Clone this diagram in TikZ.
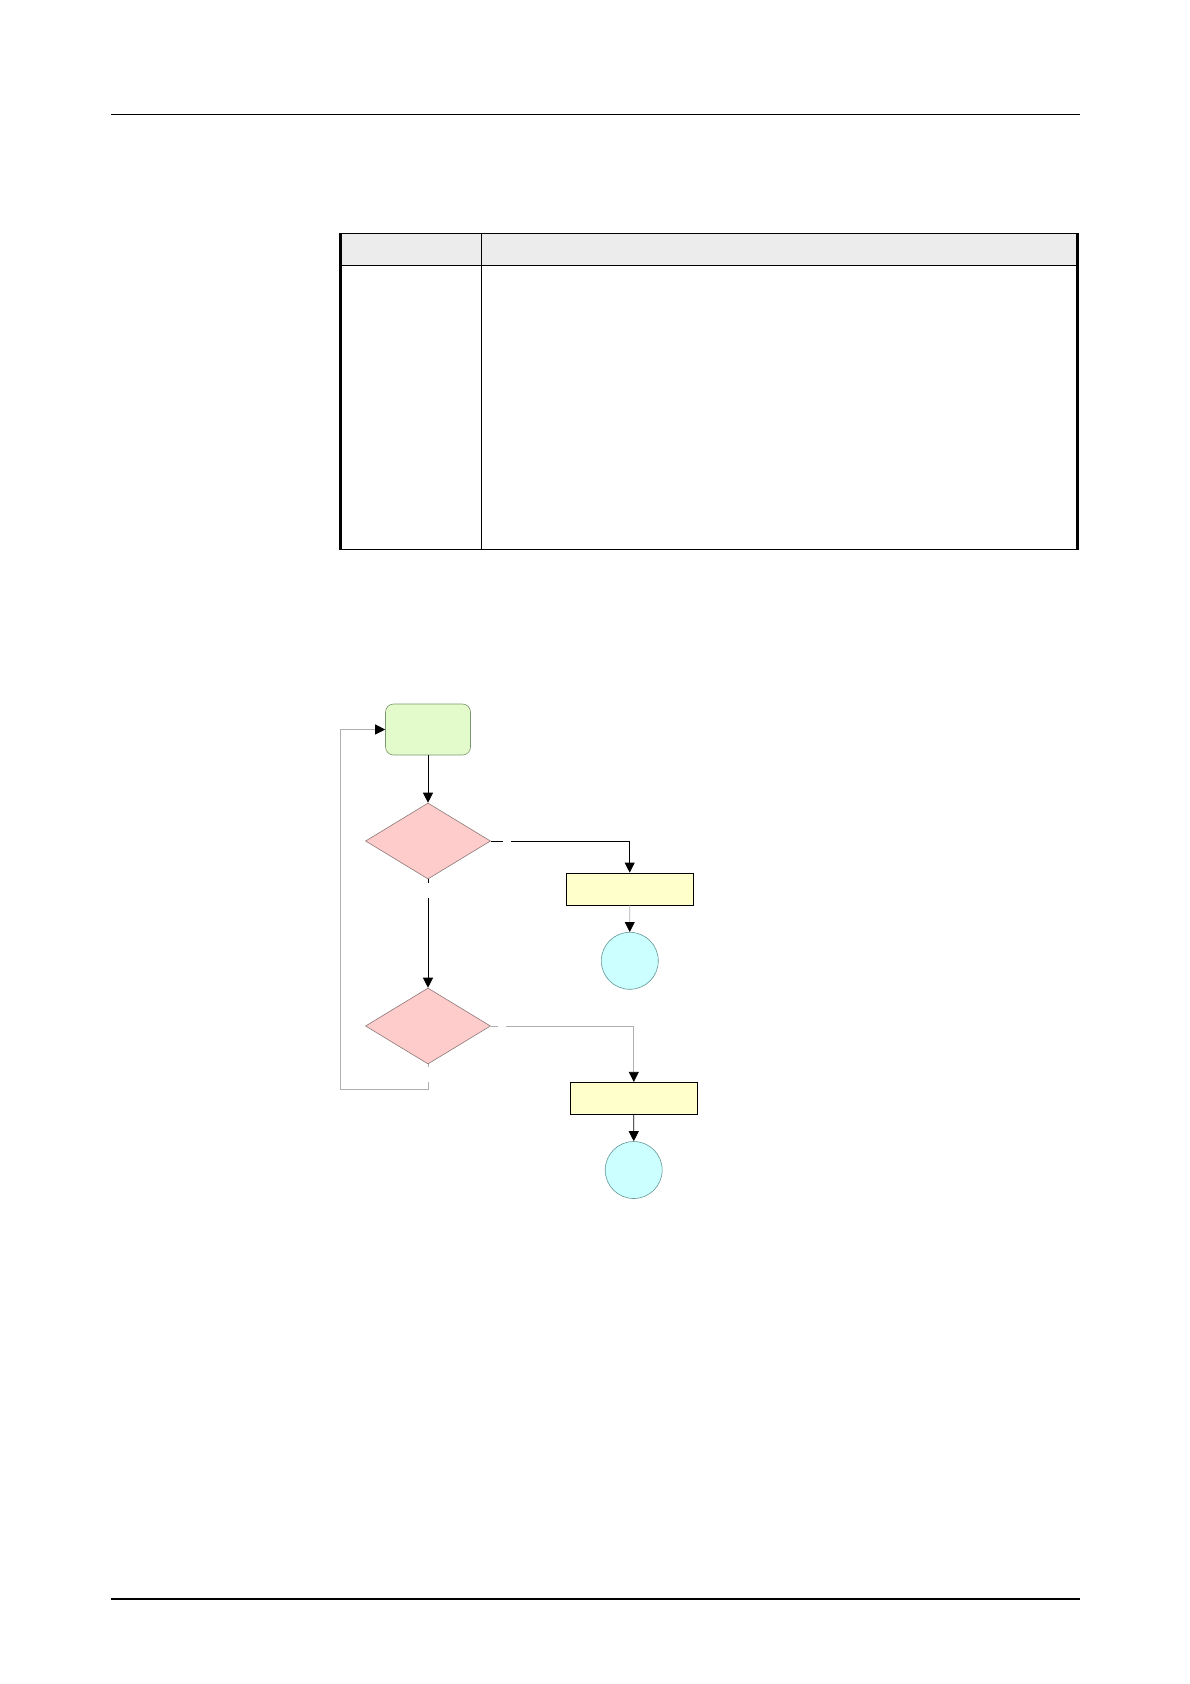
\documentclass[tikz,border=0pt]{standalone}
\usepackage{tikz}
\usetikzlibrary{arrows.meta,shapes.geometric}

\definecolor{startgreen}{RGB}{227,251,203}
\definecolor{startedge}{RGB}{120,150,110}
\definecolor{testred}{RGB}{255,204,204}
\definecolor{testedge}{RGB}{140,120,120}
\definecolor{actyellow}{RGB}{255,255,204}
\definecolor{endcyan}{RGB}{204,255,255}
\definecolor{endedge}{RGB}{100,150,150}
\definecolor{linegray}{RGB}{175,175,175}
\definecolor{headgray}{RGB}{236,236,236}

\begin{document}
\begin{tikzpicture}[
  x=1pt,y=-1pt,
  flow/.style={draw=black,line width=.8pt,-{Triangle[length=10pt,width=10pt,color=black]}},
  back/.style={draw=linegray,line width=.8pt,-{Triangle[length=10pt,width=10pt,color=black]}},
  startbox/.style={draw=startedge,fill=startgreen,rounded corners=8pt,
    minimum width=85pt,minimum height=51pt,inner sep=0pt,line width=.6pt},
  test/.style={diamond,draw=testedge,fill=testred,
    minimum width=125pt,minimum height=76pt,inner sep=0pt,line width=.6pt},
  action/.style={draw=black,fill=actyellow,
    minimum width=127pt,minimum height=32pt,inner sep=0pt,line width=.8pt},
  stopdot/.style={circle,draw=endedge,fill=endcyan,
    minimum size=57pt,inner sep=0pt,line width=.6pt},
  gapmark/.style={fill=white,inner sep=0pt,minimum width=8pt,minimum height=4pt},
  gapmarkv/.style={fill=white,inner sep=0pt,minimum width=4pt,minimum height=15pt}]

\useasboundingbox (0,0) rectangle (1190,1684);

% page rules
\draw[line width=1pt] (111,114.3) -- (1079.7,114.3);
\draw[line width=2pt] (111,1599) -- (1079.7,1599);

% table
\fill[headgray] (340.7,233.3) rectangle (1077.7,265);
\draw[line width=1pt] (340.7,233.3) -- (1077.7,233.3);
\draw[line width=1pt] (340.7,265) -- (1077.7,265);
\draw[line width=1pt] (340.7,549.3) -- (1077.7,549.3);
\draw[line width=1pt] (481.7,233.3) -- (481.7,549.3);
\draw[line width=2.6pt] (340.7,232.8) -- (340.7,549.8);
\draw[line width=2.6pt] (1077.7,232.8) -- (1077.7,549.8);

% flowchart
\node[startbox] (start) at (428,729.5) {};
\node[test] (check1) at (428,841) {};
\node[action] (act1) at (629.7,889) {};
\node[stopdot] (stop1) at (629.8,960.8) {};
\node[test] (check2) at (428,1026) {};
\node[action] (act2) at (633.8,1098.3) {};
\node[stopdot] (stop2) at (633.7,1170) {};

\coordinate (loopbot) at (428,1089.3);
\coordinate (loopleft) at (340.7,1089.3);

\draw[flow] (start) -- (check1);
\draw[flow] (check1.east) -| node[gapmark,pos=.06]{} (act1.north);
\draw[back] (act1) -- (stop1);
\draw[flow] (check1.south) -- node[gapmarkv,pos=.1]{} (check2.north);
\draw[back] (check2.east) -| node[gapmark,pos=.038]{} (act2.north);
\draw[flow] (act2) -- (stop2);
\draw[back] (check2.south) -- node[gapmarkv,pos=.39]{} (loopbot) -- (loopleft) |- (start.west);
\end{tikzpicture}
\end{document}
